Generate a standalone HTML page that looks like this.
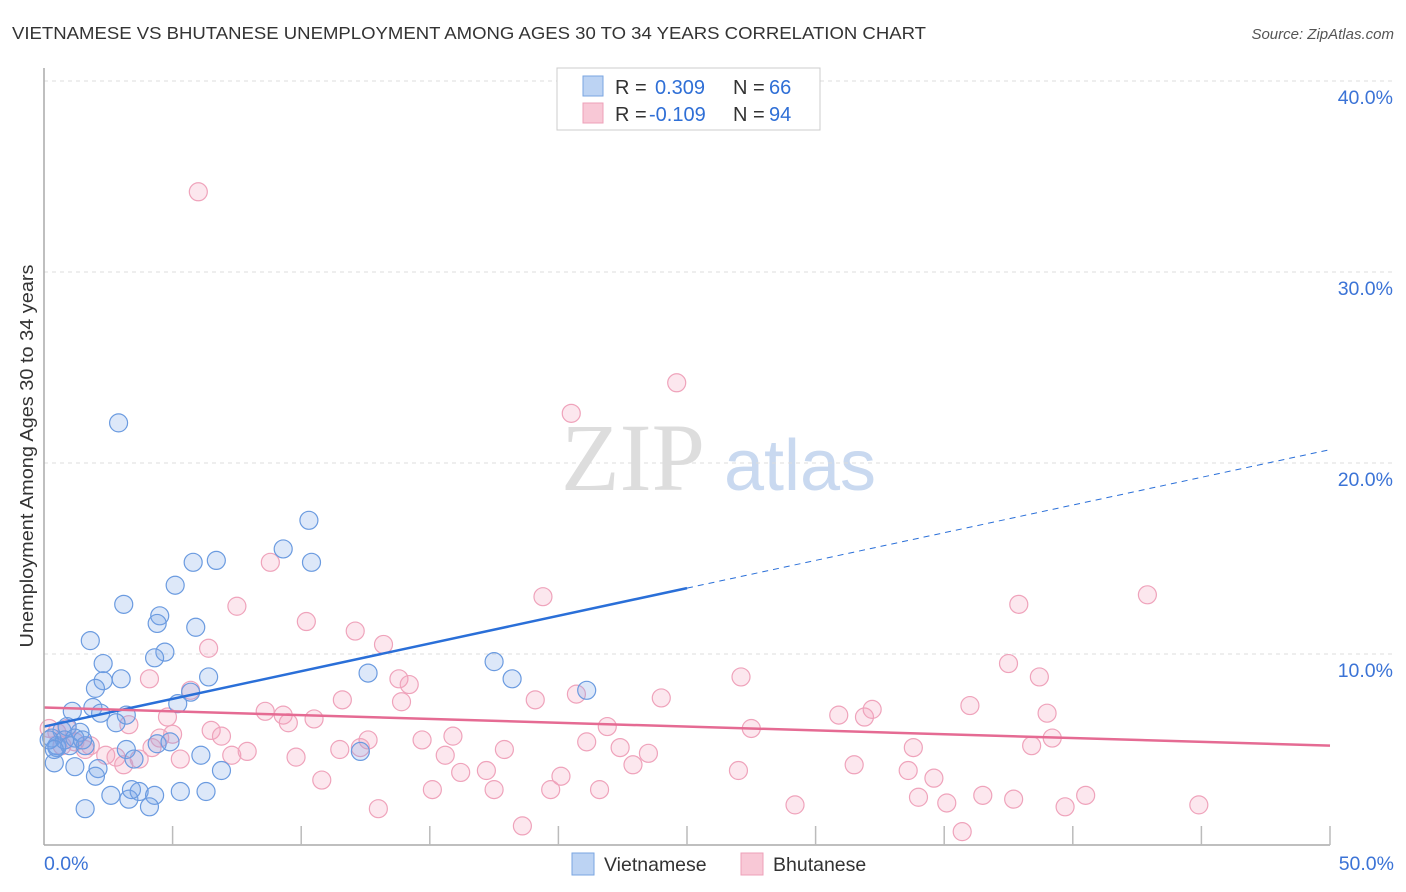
<!DOCTYPE html>
<html><head><meta charset="utf-8"><style>
body{margin:0;background:#fff;font-family:"Liberation Sans",sans-serif;}
#wrap{position:relative;width:1406px;height:892px;overflow:hidden;}
</style></head><body>
<div id="wrap">
<svg id="svg" width="1406" height="892" xmlns="http://www.w3.org/2000/svg">
<text x="12" y="39" font-size="17.5" fill="#333" textLength="914" lengthAdjust="spacingAndGlyphs">VIETNAMESE VS BHUTANESE UNEMPLOYMENT AMONG AGES 30 TO 34 YEARS CORRELATION CHART</text>
<text x="1394" y="39" font-size="15" fill="#555" font-style="italic" text-anchor="end">Source: ZipAtlas.com</text>
<text x="33" y="456" font-size="18" fill="#333" text-anchor="middle" transform="rotate(-90 33 456)" textLength="383" lengthAdjust="spacingAndGlyphs">Unemployment Among Ages 30 to 34 years</text>
<text x="633" y="490" font-size="96" fill="#ddd" font-family="Liberation Serif,serif" text-anchor="middle">ZIP</text>
<text x="800" y="490" font-size="72" fill="#c9d9f0" text-anchor="middle">atlas</text>
<g id="grid"></g><g id="pts"></g><g id="lines"></g>
<line x1="44" y1="68" x2="44" y2="845" stroke="#aaa" stroke-width="1.5"/>
<line x1="44" y1="845" x2="1330" y2="845" stroke="#aaa" stroke-width="1.5"/>
<g id="axes"></g>
<g>
<rect x="557" y="68" width="263" height="62" fill="#fff" stroke="#ccc"/>
<rect x="583" y="76" width="20" height="20" fill="#bcd3f3" stroke="#7aa6e2"/>
<rect x="583" y="103" width="20" height="20" fill="#f8c8d6" stroke="#eea0b8"/>
<text x="615" y="94" font-size="20" fill="#333">R = <tspan x="655" fill="#2f6fd6">0.309</tspan><tspan x="733">N = </tspan><tspan x="769" fill="#2f6fd6">66</tspan></text>
<text x="615" y="121" font-size="20" fill="#333">R = <tspan x="649" fill="#2f6fd6">-0.109</tspan><tspan x="733">N = </tspan><tspan x="769" fill="#2f6fd6">94</tspan></text>
</g>
<g>
<rect x="572" y="853" width="22" height="22" fill="#bcd3f3" stroke="#7aa6e2"/>
<text x="604" y="871" font-size="19.5" fill="#333">Vietnamese</text>
<rect x="741" y="853" width="22" height="22" fill="#f8c8d6" stroke="#eea0b8"/>
<text x="773" y="871" font-size="19.5" fill="#333">Bhutanese</text>
</g>
</svg>
</div>
<script>
const yTicks=[10,20,30,40];
const yTickLabels=["10.0%","20.0%","30.0%","40.0%"];
const xTicks=[0,5,10,15,20,25,30,35,40,45,50];
const xEndLabels=["0.0%","50.0%"];
const vietX=[2.9,10.3,9.3,10.4,5.8,6.7,5.1,3.1,4.5,4.4,5.9,1.8,4.7,4.3,2.3,6.4,3.0,2.3,2.0,5.7,5.2,1.9,1.1,2.2,3.2,2.8,12.6,17.5,18.2,21.1,12.3,6.1,6.9,3.2,4.4,4.9,3.5,2.1,2.0,1.2,0.4,0.5,0.3,0.7,0.9,1.4,1.6,0.5,0.8,2.6,3.3,3.7,4.3,5.3,6.3,4.1,1.6,3.4,0.2,1.2,1.0,1.5,0.4];
const vietY=[22.1,17.0,15.5,14.8,14.8,14.9,13.6,12.6,12.0,11.6,11.4,10.7,10.1,9.8,9.5,8.8,8.7,8.6,8.2,8.0,7.4,7.2,7.0,6.9,6.8,6.4,9.0,9.6,8.7,8.1,4.9,4.7,3.9,5.0,5.3,5.4,4.5,4.0,3.6,4.1,4.3,5.1,5.6,6.0,6.2,5.9,5.2,5.2,5.5,2.6,2.4,2.8,2.6,2.8,2.8,2.0,1.9,2.9,5.5,5.6,5.2,5.5,5.0];
const bhuX=[6.0,24.6,20.5,8.8,19.4,37.9,42.9,7.5,10.2,12.1,13.2,6.4,37.5,4.1,38.7,27.1,13.8,14.2,5.7,11.6,13.9,19.1,20.7,24.0,8.6,9.3,10.5,4.8,6.5,6.9,9.5,3.3,4.5,5.0,30.9,31.9,32.2,36.0,39.0,27.5,21.9,12.6,11.5,12.3,14.7,15.9,17.9,21.1,22.4,23.5,33.8,38.4,39.2,7.3,7.9,9.8,15.6,16.2,17.2,20.1,22.9,27.0,31.5,33.6,34.6,10.8,15.1,17.5,19.7,21.6,34.0,36.5,37.7,40.5,39.7,35.1,29.2,44.9,13.0,18.6,35.7,0.5,0.7,1.2,1.8,2.4,2.8,3.1,3.7,4.2,5.3,0.2,0.9,1.6];
const bhuY=[34.2,24.2,22.6,14.8,13.0,12.6,13.1,12.5,11.7,11.2,10.5,10.3,9.5,8.7,8.8,8.8,8.7,8.4,8.1,7.6,7.5,7.6,7.9,7.7,7.0,6.8,6.6,6.7,6.0,5.7,6.4,6.3,5.6,5.8,6.8,6.7,7.1,7.3,6.9,6.1,6.2,5.5,5.0,5.1,5.5,5.7,5.0,5.4,5.1,4.8,5.1,5.2,5.6,4.7,4.9,4.6,4.7,3.8,3.9,3.6,4.2,3.9,4.2,3.9,3.5,3.4,2.9,2.9,2.9,2.9,2.5,2.6,2.4,2.6,2.0,2.2,2.1,2.1,1.9,1.0,0.7,5.9,5.2,5.4,5.2,4.7,4.6,4.2,4.5,5.1,4.5,6.1,6.1,5.0];
const vietTrend=[6.2,20.7];
const vietSolidEnd=25;
const bhuTrend=[7.2,5.2];

const NS="http://www.w3.org/2000/svg";
const X=v=>44+v*25.72, Y=v=>845-v*19.1;
function mk(tag,attrs,parent){const e=document.createElementNS(NS,tag);for(const k in attrs)e.setAttribute(k,attrs[k]);parent.appendChild(e);return e;}
const grid=document.getElementById('grid'),axes=document.getElementById('axes'),pts=document.getElementById('pts'),lines=document.getElementById('lines');
yTicks.forEach((t,i)=>{
  const l=mk('line',{x1:44,x2:1394,y1:Y(t),y2:Y(t),stroke:'#ddd','stroke-dasharray':'4,4'},grid);
  
  
  const tx=mk('text',{x:1393,y:Y(t)+23,'font-size':19.5,fill:'#3b73d6','text-anchor':'end'},axes);
  tx.textContent=yTickLabels[i];
  
  
});
xTicks.forEach(t=>{
  if(t===0)return;
  const l=mk('line',{x1:X(t),x2:X(t),y1:826,y2:845,stroke:'#bbb','stroke-width':1.5},axes);
  
  
});
[[0,'start',44],[50,'end',1394]].forEach((a,i)=>{
  const tx=mk('text',{x:a[2],y:870,'font-size':19.5,fill:'#3b73d6','text-anchor':a[1]},axes);
  tx.textContent=xEndLabels[i];
  
  
});
bhuX.forEach((v,i)=>{
  const c=mk('circle',{cx:X(v),cy:Y(bhuY[i]),r:9,fill:'rgba(244,160,188,0.25)',stroke:'#efa3bb','stroke-width':1.2},pts);
  
  
});
vietX.forEach((v,i)=>{
  const c=mk('circle',{cx:X(v),cy:Y(vietY[i]),r:9,fill:'rgba(120,165,230,0.25)',stroke:'#6b9be0','stroke-width':1.2},pts);
  
  
});
const vy=x=>vietTrend[0]+(vietTrend[1]-vietTrend[0])*x/50;
let l1=mk('line',{x1:X(0),y1:Y(vy(0)),x2:X(vietSolidEnd),y2:Y(vy(vietSolidEnd)),stroke:'#2a6fd8','stroke-width':2.5},lines);


let l2=mk('line',{x1:X(vietSolidEnd),y1:Y(vy(vietSolidEnd)),x2:X(50),y2:Y(vy(50)),stroke:'#2a6fd8','stroke-width':1,'stroke-dasharray':'6,5'},lines);


let l3=mk('line',{x1:X(0),y1:Y(bhuTrend[0]),x2:X(50),y2:Y(bhuTrend[1]),stroke:'#e56b93','stroke-width':2.5},lines);


</script>
</body></html>
